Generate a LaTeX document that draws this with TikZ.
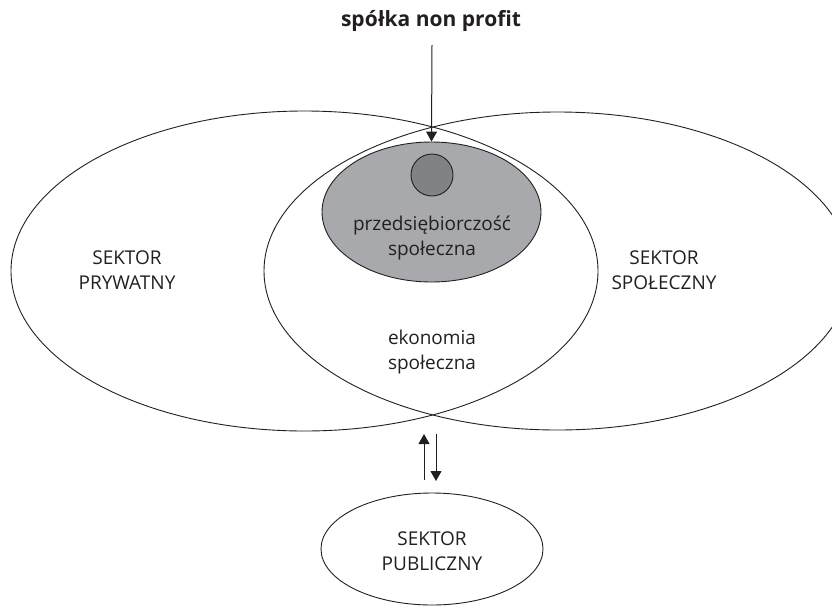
\documentclass[tikz,border=0pt]{standalone}
\usepackage{fontspec}
\setmainfont{Open Sans}
\usetikzlibrary{shapes.geometric,arrows.meta}
\definecolor{ink}{RGB}{35,31,32}
\definecolor{lightg}{RGB}{167,169,172}
\definecolor{darkg}{RGB}{128,130,133}
\tikzset{
  oval/.style={draw=ink, line width=0.9pt, ellipse, inner sep=0pt},
  lbl/.style={text=ink, align=center, inner sep=0pt, font=\fontsize{19}{25}\selectfont},
  arr/.style={draw=ink, line width=1pt, -{Triangle[width=11pt,length=10pt]}},
}
\begin{document}
\begin{tikzpicture}[x=1pt,y=-1pt]
\useasboundingbox (0,0) rectangle (832,608);
\begin{scope}
\clip (0,0) rectangle (832,608);
\node[oval, minimum width=587pt, minimum height=320pt] (priv) at (304.5,271) {};
\node[oval, minimum width=587pt, minimum height=318pt] (soc) at (557.5,271) {};
\node[oval, fill=lightg, minimum width=219pt, minimum height=140pt] (pe) at (431.5,212) {};
\node[oval, circle, fill=darkg, minimum size=42pt] (dot) at (432,175) {};
\node[oval, minimum width=222pt, minimum height=112pt] (publ) at (432,549) {};
\end{scope}
\node[lbl, font=\fontsize{21}{24}\selectfont\bfseries] (spolka) at (431,21) {spółka non profit};
\node[lbl] (peL) at (432,238) {przedsiębiorczość\\społeczna};
\node[lbl] (ekL) at (432,352) {ekonomia\\społeczna};
\node[lbl] (privL) at (127,270) {SEKTOR\\PRYWATNY};
\node[lbl] (socL) at (664,270) {SEKTOR\\SPOŁECZNY};
\node[lbl] (publL) at (432,551) {SEKTOR\\PUBLICZNY};
\coordinate (a0) at (432,45);
\draw[arr] (a0) -- (pe.north);
\coordinate (upS) at (424,480);
\coordinate (upE) at (424,434);
\coordinate (dnS) at (436,434);
\coordinate (dnE) at (436,481);
\draw[arr] (upS) -- (upE);
\draw[arr] (dnS) -- (dnE);
\end{tikzpicture}
\end{document}
